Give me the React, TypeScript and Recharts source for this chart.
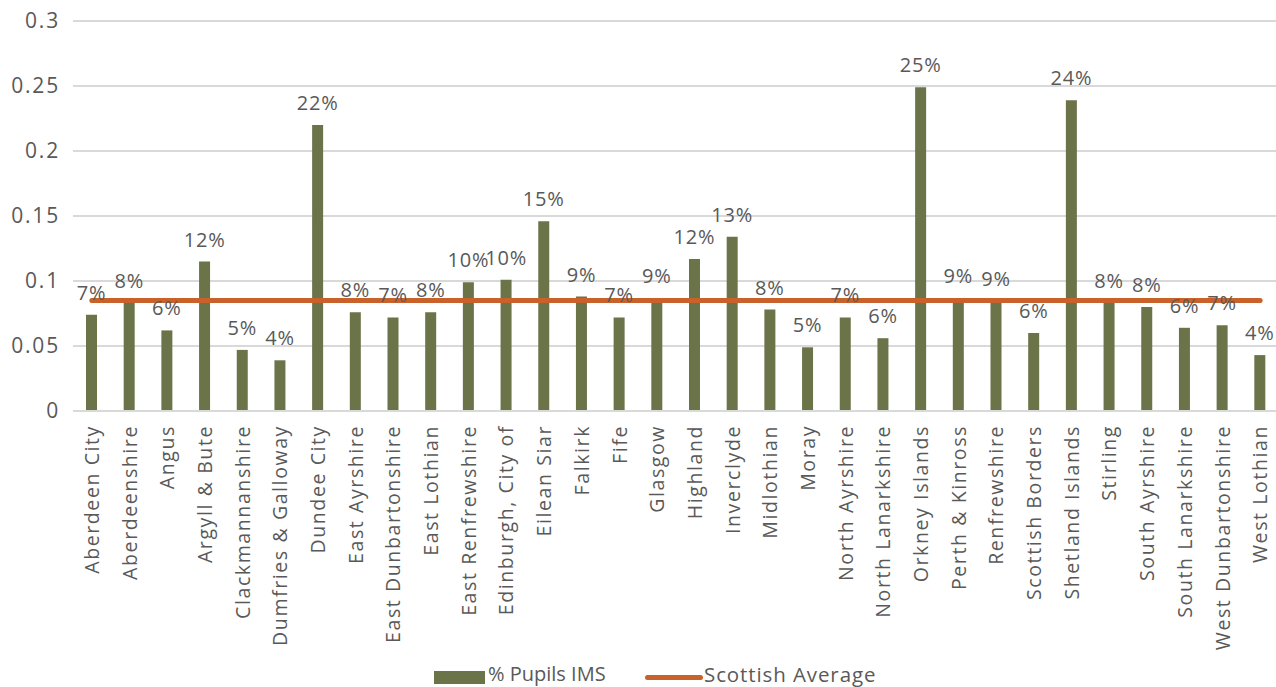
import React from 'react';
import { ComposedChart, Bar, Line, XAxis, YAxis, CartesianGrid, Legend, LabelList } from 'recharts';

const categories = [
  'Aberdeen City', 'Aberdeenshire', 'Angus', 'Argyll & Bute', 'Clackmannanshire',
  'Dumfries & Galloway', 'Dundee City', 'East Ayrshire', 'East Dunbartonshire', 'East Lothian',
  'East Renfrewshire', 'Edinburgh, City of', 'Eilean Siar', 'Falkirk', 'Fife',
  'Glasgow', 'Highland', 'Inverclyde', 'Midlothian', 'Moray',
  'North Ayrshire', 'North Lanarkshire', 'Orkney Islands', 'Perth & Kinross', 'Renfrewshire',
  'Scottish Borders', 'Shetland Islands', 'Stirling', 'South Ayrshire', 'South Lanarkshire',
  'West Dunbartonshire', 'West Lothian',
];

const pupilsIMS = [
  0.074, 0.083, 0.062, 0.115, 0.047,
  0.039, 0.220, 0.076, 0.072, 0.076,
  0.099, 0.101, 0.146, 0.088, 0.072,
  0.087, 0.117, 0.134, 0.078, 0.049,
  0.072, 0.056, 0.249, 0.087, 0.085,
  0.060, 0.239, 0.083, 0.080, 0.064,
  0.066, 0.043,
];

const scottishAverage = 0.085;

const yTicks = [0, 0.05, 0.1, 0.15, 0.2, 0.25, 0.3];

const seriesNames = ['% Pupils IMS', 'Scottish Average'];

const data = categories.map((name, i) => ({
  name,
  ims: pupilsIMS[i],
  avg: scottishAverage,
}));

const BAR = '#6B7349';
const LINE = '#C9622A';
const TEXT = '#595959';
const GRID = '#D9D9D9';
const FONT = '"Open Sans", sans-serif';

const XTick = (props: any) => {
  const { x, y, payload } = props;
  return (
    <g transform={`translate(${x},${y + 14})`}>
      <text
        x={0}
        y={0}
        dy="0.36em"
        textAnchor="end"
        transform="rotate(-90)"
        fill={TEXT}
        fontSize={19.5}
        fontFamily={FONT}
        letterSpacing={1.6}
      >
        {payload.value}
      </text>
    </g>
  );
};

const LegendContent = () => (
  <div style={{ position: 'relative', width: 1276, height: 30, fontFamily: FONT, color: TEXT }}>
    <div style={{ position: 'absolute', left: 434, top: 14, width: 51, height: 13, background: BAR }} />
    <div style={{ position: 'absolute', left: 488, top: 3, fontSize: 20, lineHeight: '28px', whiteSpace: 'nowrap', letterSpacing: 0 }}>
      {seriesNames[0]}
    </div>
    <div style={{ position: 'absolute', left: 645, top: 18, width: 58, height: 5, borderRadius: 3, background: LINE }} />
    <div style={{ position: 'absolute', left: 704, top: 3, fontSize: 20.5, lineHeight: '28px', whiteSpace: 'nowrap', letterSpacing: 0.9 }}>
      {seriesNames[1]}
    </div>
  </div>
);

export default function App() {
  return (
    <div style={{ position: 'absolute', left: 0, top: 0, width: 1276, height: 687, background: '#fff' }}>
      <ComposedChart
        width={1276}
        height={687}
        data={data}
        margin={{ top: 21, right: -3, bottom: 0, left: 0 }}
        barCategoryGap={0}
      >
        <CartesianGrid vertical={false} stroke={GRID} strokeWidth={2} />
        <XAxis
          dataKey="name"
          interval={0}
          height={246}
          axisLine={{ stroke: GRID, strokeWidth: 2 }}
          tickLine={false}
          tickSize={0}
          tickMargin={0}
          tick={<XTick />}
        />
        <YAxis
          width={73}
          domain={[0, 0.3]}
          ticks={yTicks}
          axisLine={false}
          tickLine={false}
          tickMargin={7}
          tick={{ fill: TEXT, fontSize: 21, fontFamily: FONT, letterSpacing: 1.8 }}
        />
        <Legend verticalAlign="bottom" height={30} content={<LegendContent />} wrapperStyle={{ left: 0, width: 1276 }} />
        <Bar dataKey="ims" name={seriesNames[0]} fill={BAR} barSize={11} isAnimationActive={false}>
          <LabelList
            dataKey="ims"
            position="top"
            offset={15}
            fill={TEXT}
            fontSize={20}
            fontFamily={FONT}
            letterSpacing={0.8}
            formatter={(v: any) => `${Math.round(Number(v) * 100)}%`}
          />
        </Bar>
        <Line
          dataKey="avg"
          name={seriesNames[1]}
          stroke={LINE}
          strokeWidth={5}
          strokeLinecap="round"
          dot={false}
          activeDot={false}
          isAnimationActive={false}
        />
      </ComposedChart>
    </div>
  );
}
